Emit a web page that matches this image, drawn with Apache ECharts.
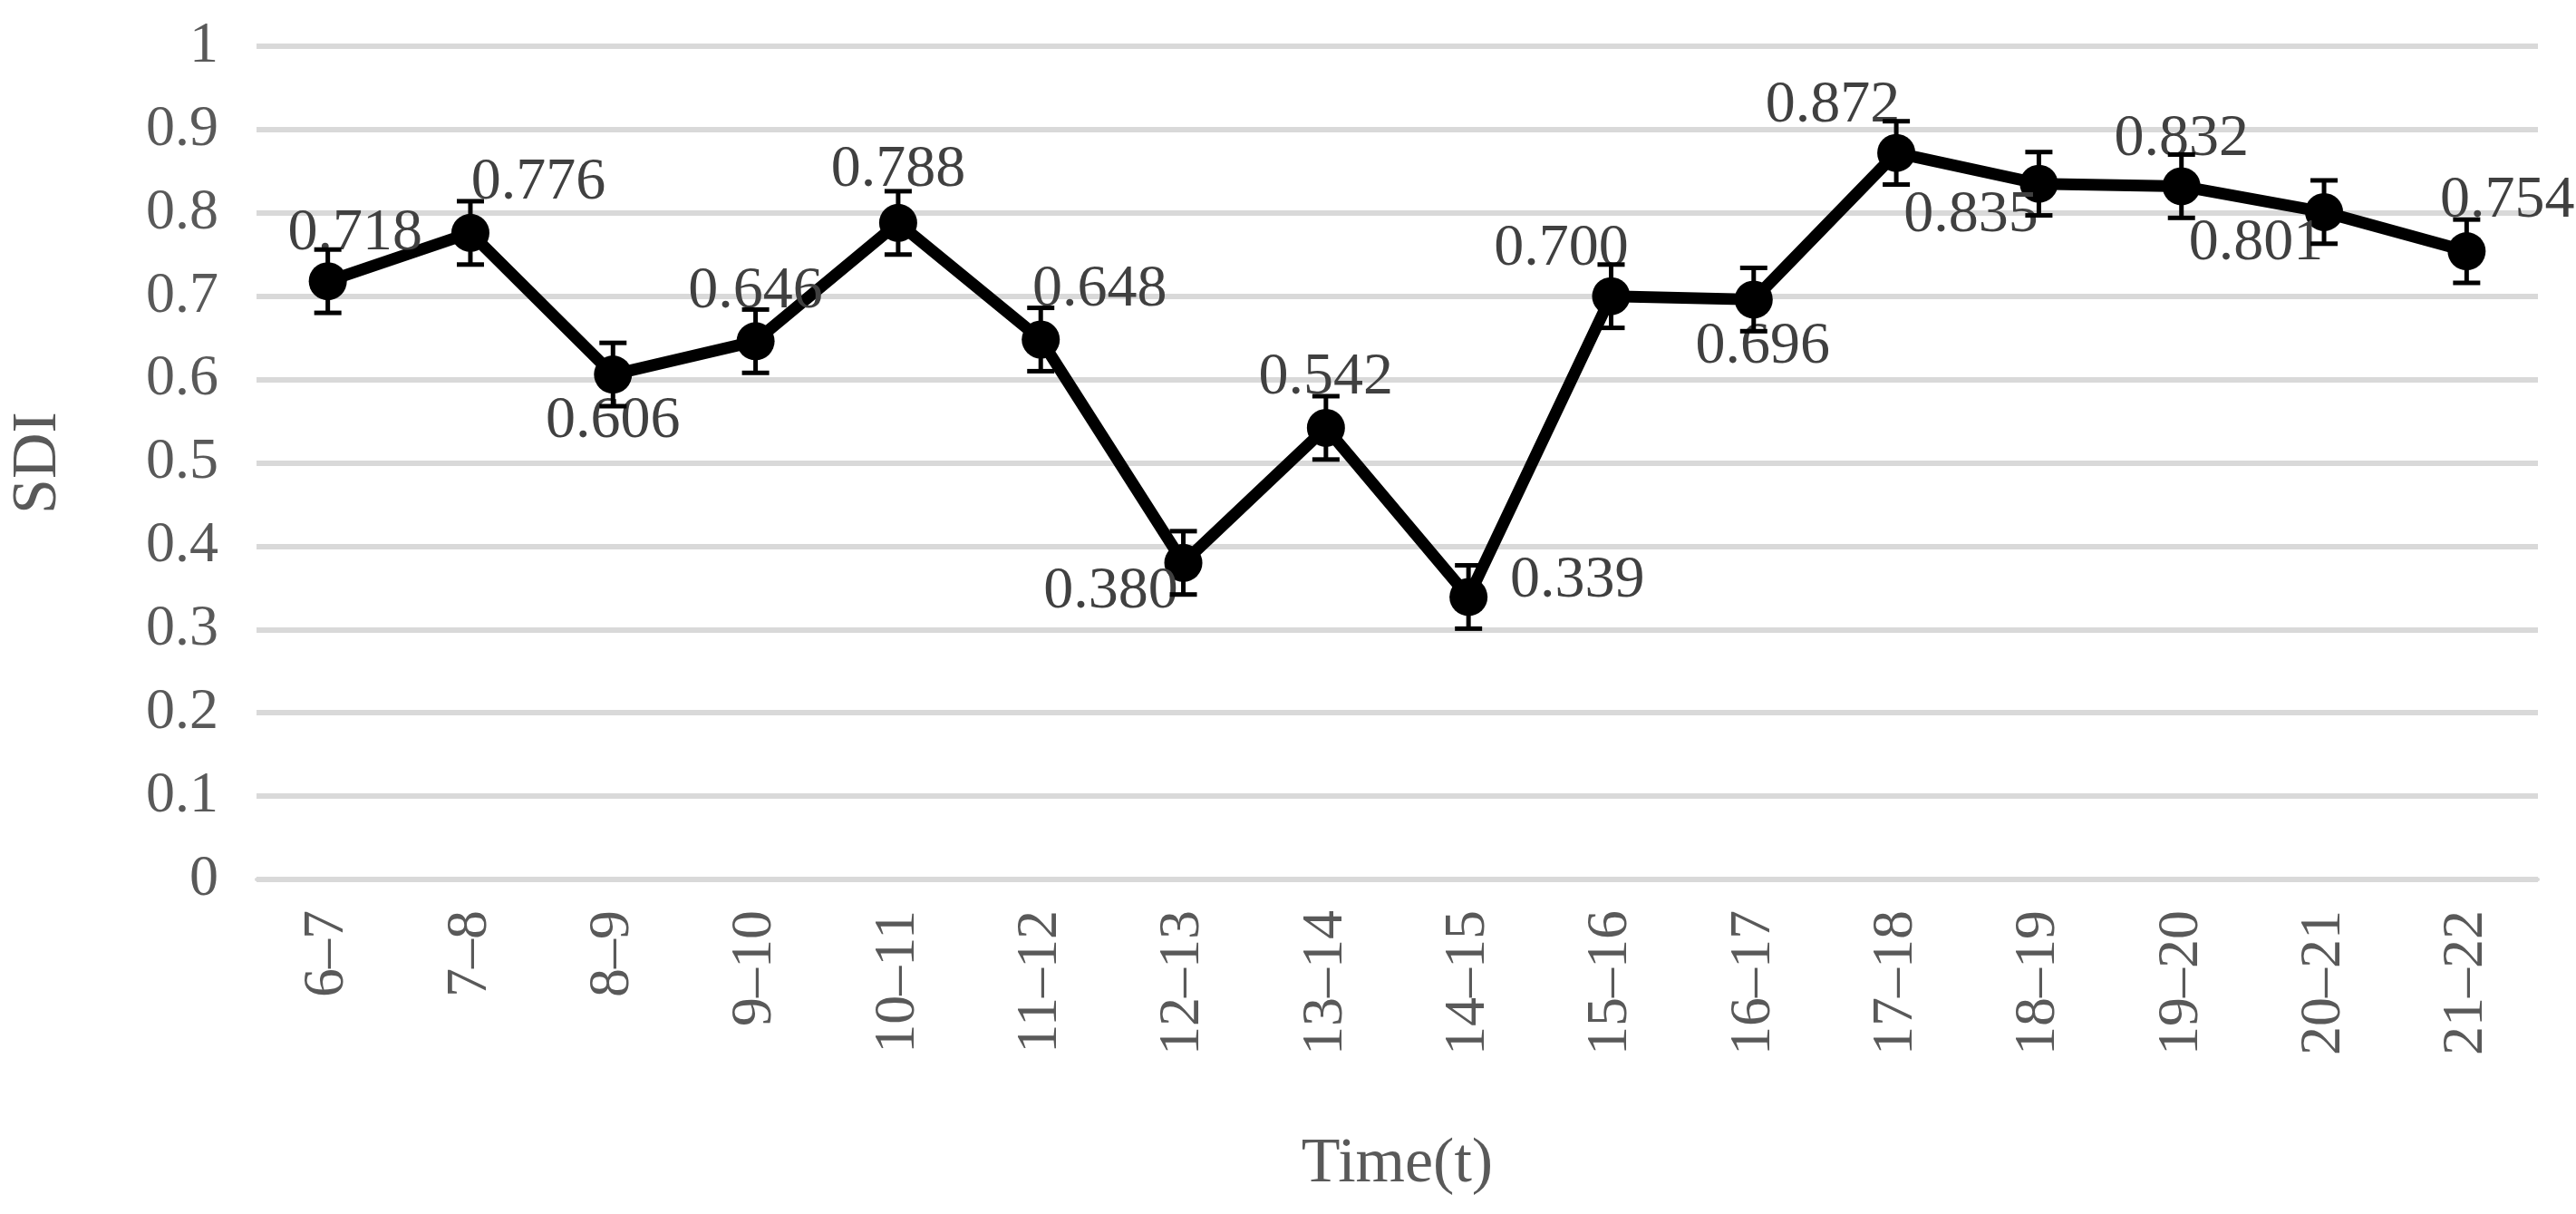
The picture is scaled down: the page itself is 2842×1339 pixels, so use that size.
<!DOCTYPE html>
<html><head><meta charset="utf-8">
<script src="https://cdn.jsdelivr.net/npm/echarts@6/dist/echarts.min.js"></script>
<style>html,body{margin:0;background:#fff}#c{width:2842px;height:1339px}</style>
</head><body><div id="c"></div>
<script>
const categories = ["6\u20137","7\u20138","8\u20139","9\u201310","10\u201311","11\u201312","12\u201313","13\u201314","14\u201315","15\u201316","16\u201317","17\u201318","18\u201319","19\u201320","20\u201321","21\u201322"];
const sdi = [0.718,0.776,0.606,0.646,0.788,0.648,0.380,0.542,0.339,0.700,0.696,0.872,0.835,0.832,0.801,0.754];
const err = [0.038,0.038,0.038,0.038,0.038,0.038,0.038,0.038,0.038,0.038,0.038,0.038,0.038,0.038,0.038,0.038];
const labelOffsets = [[30,-52],[75,-55],[0,52],[0,-55],[0,-58],[65,-55],[-80,32],[0,-55],[120,-18],[-55,-52],[10,52],[-70,-52],[-75,35],[0,-52],[-75,35],[45,-55]];
const font = "'Liberation Serif','Times New Roman',serif";
const chart = echarts.init(document.getElementById('c'));
chart.setOption({
  animation:false,
  grid:{left:272,right:42,top:51,bottom:369},
  xAxis:{type:'category',data:categories,boundaryGap:true,
    axisLine:{lineStyle:{color:'#d9d9d9',width:4}},axisTick:{show:false},
    axisLabel:{rotate:90,fontFamily:font,fontSize:64,color:'#595959',margin:34},
    name:'Time(t)',nameLocation:'middle',nameGap:280,nameTextStyle:{fontFamily:font,fontSize:70,color:'#595959'}},
  yAxis:{type:'value',min:0,max:1,interval:0.1,
    axisLine:{show:false},axisTick:{show:false},
    splitLine:{lineStyle:{color:'#d9d9d9',width:6}},
    axisLabel:{fontFamily:font,fontSize:64,color:'#595959',margin:42,formatter:v=>String(Math.round(v*10)/10)},
    name:'SDI',nameLocation:'middle',nameGap:205,nameTextStyle:{fontFamily:font,fontSize:70,color:'#595959'}},
  series:[
    {type:'line',data:sdi.map((v,i)=>({value:v,label:{offset:labelOffsets[i]}})),
     lineStyle:{color:'#000',width:13},symbol:'circle',symbolSize:42,itemStyle:{color:'#000'},
     label:{show:true,position:'inside',fontFamily:font,fontSize:66,color:'#404040',formatter:p=>p.value.toFixed(3)},z:3},
    {type:'custom',data:sdi.map((v,i)=>[i,v-err[i],v+err[i]]),z:4,
     renderItem:(params,api)=>{
       const lo=api.coord([api.value(0),api.value(1)]);
       const hi=api.coord([api.value(0),api.value(2)]);
       const w=15,st={stroke:'#000',lineWidth:5};
       return {type:'group',children:[
         {type:'line',shape:{x1:lo[0],y1:lo[1],x2:hi[0],y2:hi[1]},style:st},
         {type:'line',shape:{x1:lo[0]-w,y1:lo[1],x2:lo[0]+w,y2:lo[1]},style:st},
         {type:'line',shape:{x1:hi[0]-w,y1:hi[1],x2:hi[0]+w,y2:hi[1]},style:st}]};
     }}
  ]
});
</script></body></html>
